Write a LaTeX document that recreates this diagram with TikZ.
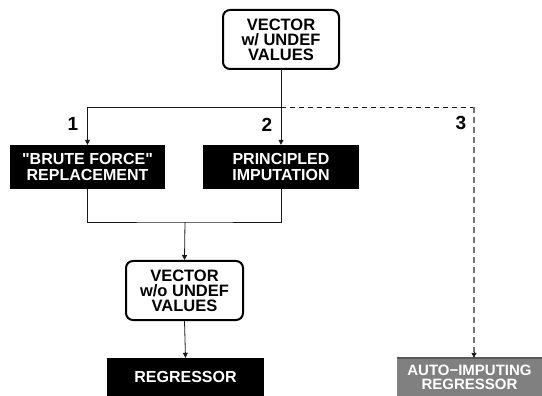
\documentclass[tikz,border=0pt]{standalone}
\usepackage{fontspec}
\setmainfont{Liberation Sans}[Ligatures=TeXOff]
\usetikzlibrary{arrows.meta,calc}
\begin{document}
\begin{tikzpicture}[x=1pt,y=-1pt,
  every node/.style={inner sep=0pt, align=center, font=\fontsize{16.5}{15}\selectfont\bfseries},
  roundbox/.style={draw=black, line width=2pt, rounded corners=7pt, fill=white, minimum width=116pt, minimum height=59pt},
  blackbox/.style={fill=black, text=white, font=\fontsize{16}{16.5}\selectfont\bfseries},
  greybox/.style={fill=black!50, text=white, font=\fontsize{15}{14}\selectfont\bfseries},
  conn/.style={line width=0.8pt, draw=black!90},
  arr/.style={conn, -{Triangle[length=5pt,width=5pt]}},
  numlabel/.style={font=\fontsize{19}{19}\selectfont\bfseries}
]
\useasboundingbox (0,0) rectangle (542,396);

\node[roundbox] (top) at (281,39.5) {VECTOR\\w/ UNDEF\\VALUES};
\node[blackbox, minimum width=155pt, minimum height=44pt] (brute) at (87.5,167) {"BRUTE FORCE"\\REPLACEMENT};
\node[blackbox, minimum width=156pt, minimum height=44pt] (prin) at (281,167) {PRINCIPLED\\IMPUTATION};
\node[roundbox, minimum width=117pt] (mid) at (184.5,290.5) {VECTOR\\w/o UNDEF\\VALUES};
\node[blackbox, minimum width=157pt, minimum height=38pt] (reg) at (185.5,377) {REGRESSOR};
\node[greybox, minimum width=145pt, minimum height=38pt] (auto) at (469.5,377) {AUTO−IMPUTING\\REGRESSOR};
\draw[line width=1.5pt, draw=black!65] (auto.north west) -- (auto.north east);

\node[numlabel] (n1) at (73,124) {1};
\node[numlabel] (n2) at (267,125) {2};
\node[numlabel] (n3) at (461,123) {3};

\coordinate (j1) at (281,107);
\coordinate (j3) at (474,107);
\coordinate (j2) at (185,222);
\coordinate (j4) at ($(j3 |- auto.north)+(0,-6)$);

\draw[conn] (top.south) -- (j1);
\draw[arr] (j1) -| (brute.north);
\draw[arr] (j1) -- (prin.north);
\draw[conn, dash pattern=on 5pt off 4pt] (j1) -- (j3);
\draw[line width=2pt, draw=black!55, dash pattern=on 6pt off 4pt] (j3) -- (j4);
\draw[arr] (j4) -- (j3 |- auto.north);

\draw[conn] (brute.south) |- (j2) -| (prin.south);
\draw[arr] (j2) -- (mid.north);
\draw[arr] (mid.south) -- (reg.north);
\end{tikzpicture}
\end{document}
